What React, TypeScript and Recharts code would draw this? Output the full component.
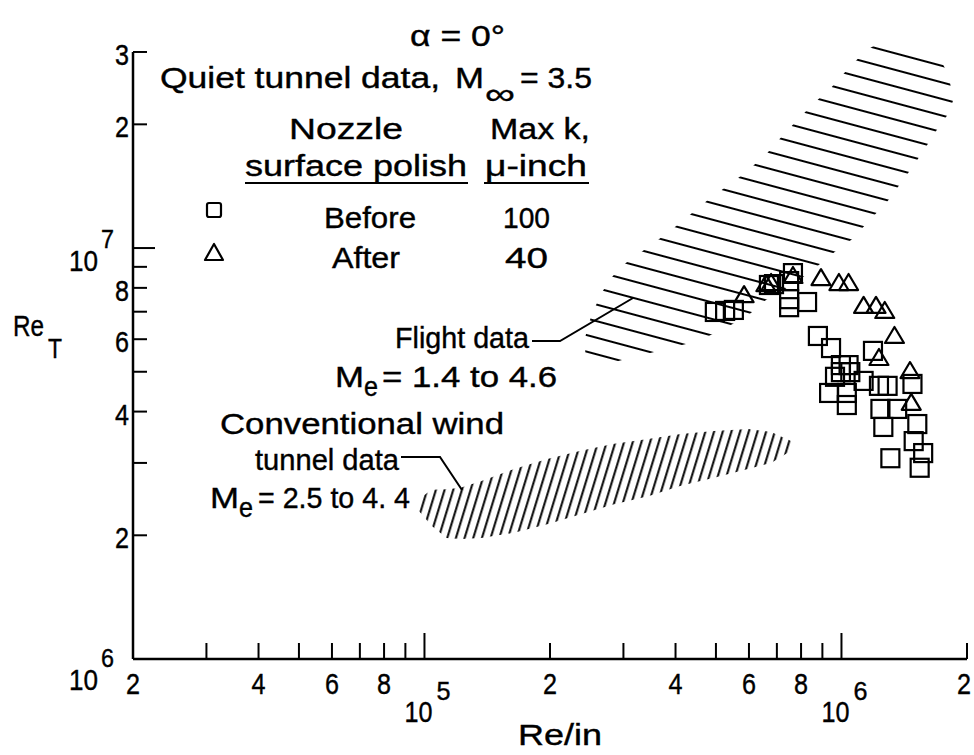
import React from 'react';
import { ComposedChart, Area, Scatter, XAxis, YAxis, ReferenceLine } from 'recharts';

const FONT = "'Liberation Sans', Arial, sans-serif";

// axis ticks
const xTicks = [2e4, 3e4, 4e4, 5e4, 6e4, 7e4, 8e4, 9e4, 1e5, 2e5, 3e5, 4e5, 5e5, 6e5, 7e5, 8e5, 9e5, 1e6, 2e6];
const xTickLabels = ['2', '', '4', '', '6', '', '8', '', '10^5', '2', '', '4', '', '6', '', '8', '', '10^6', '2'];
const yTicks = [1e6, 2e6, 3e6, 4e6, 5e6, 6e6, 7e6, 8e6, 9e6, 1e7, 2e7, 3e7];
const yTickLabels = ['10^6', '2', '', '4', '', '6', '', '8', '', '10^7', '2', '3'];

// quiet tunnel, before polish (squares)
const beforeRe = [
  4.97e5, 5.26e5, 5.52e5, 6.7e5, 6.89e5, 7.49e5, 7.65e5, 7.49e5, 7.49e5, 8.27e5,
  8.78e5, 9.44e5, 1.19e6, 9.97e5, 1.04e6, 9.97e5, 1.05e6, 9.65e5, 1.13e6, 1.23e6,
  1.29e6, 1.48e6, 9.34e5, 1.03e6, 1.03e6, 1.24e6, 1.36e6, 1.26e6, 1.52e6, 1.49e6,
  1.57e6, 1.31e6, 1.54e6,
];
const beforeReT = [
  6.99e6, 7.03e6, 7.07e6, 8.13e6, 8.17e6, 8.31e6, 8.69e6, 7.51e6, 7.18e6, 7.39e6,
  6.11e6, 5.71e6, 5.62e6, 5.19e6, 5.19e6, 4.99e6, 4.99e6, 4.86e6, 4.75e6, 4.62e6,
  4.62e6, 4.67e6, 4.44e6, 4.44e6, 4.15e6, 4.06e6, 4.06e6, 3.67e6, 3.73e6, 3.39e6,
  3.17e6, 3.08e6, 2.92e6,
];

// quiet tunnel, after polish (triangles)
const afterRe = [5.84e5, 6.59e5, 6.78e5, 7.65e5, 8.93e5, 9.86e5, 1.04e6, 1.13e6, 1.21e6, 1.27e6, 1.34e6, 1.23e6, 1.46e6, 1.47e6];
const afterReT = [7.68e6, 8.17e6, 8.22e6, 8.55e6, 8.45e6, 8.22e6, 8.22e6, 7.23e6, 7.23e6, 7.03e6, 6.11e6, 5.4e6, 5.02e6, 4.2e6];

// flight data band, Me = 1.4 to 4.6
const flightRe = [
  2.43e5, 2.51e5, 2.65e5, 2.8e5, 3.04e5, 3.46e5, 3.88e5, 4.31e5, 4.79e5, 5.14e5, 5.9e5, 6.59e5,
  7.2e5, 7.91e5, 8.59e5, 9.49e5, 1.06e6, 1.16e6, 1.29e6, 1.47e6, 1.57e6, 1.7e6, 1.81e6, 1.85e6,
];
const flightLow = [
  5.4e6, 5.34e6, 5.31e6, 5.25e6, 5.37e6, 5.55e6, 5.71e6, 5.87e6, 6.1e6, 6.32e6, 6.79e6, 7.47e6,
  7.86e6, 8.36e6, 8.89e6, 9.67e6, 1.05e7, 1.16e7, 1.3e7, 1.56e7, 1.72e7, 1.95e7, 2.13e7, 2.28e7,
];
const flightHigh = [
  6.08e6, 6.83e6, 7.73e6, 8.45e6, 9.19e6, 1.01e7, 1.1e7, 1.2e7, 1.31e7, 1.38e7, 1.53e7, 1.69e7,
  1.87e7, 2.07e7, 2.25e7, 2.47e7, 2.8e7, 3.05e7, 3.24e7, 3.12e7, 3.07e7, 2.98e7, 2.62e7, 2.3e7,
];

// conventional wind tunnel band, Me = 2.5 to 4.4
const convRe = [9.7e4, 1.04e5, 1.13e5, 1.22e5, 1.37e5, 1.64e5, 1.98e5, 2.37e5, 2.85e5, 3.44e5, 4.12e5, 4.95e5, 5.97e5, 6.78e5, 7.57e5];
const convLow = [2.29e6, 2.11e6, 1.97e6, 1.96e6, 1.97e6, 2.03e6, 2.13e6, 2.25e6, 2.38e6, 2.49e6, 2.64e6, 2.76e6, 2.9e6, 3.0e6, 3.21e6];
const convHigh = [2.45e6, 2.58e6, 2.59e6, 2.61e6, 2.71e6, 2.9e6, 3.07e6, 3.21e6, 3.34e6, 3.43e6, 3.53e6, 3.59e6, 3.63e6, 3.57e6, 3.39e6];

const beforeData = beforeRe.map((x, i) => ({ x, y: beforeReT[i] }));
const afterData = afterRe.map((x, i) => ({ x, y: afterReT[i] }));
const flightData = flightRe.map((x, i) => ({ x, range: [flightLow[i], flightHigh[i]] }));
const convData = convRe.map((x, i) => ({ x, range: [convLow[i], convHigh[i]] }));

const findLabel = (ticks: number[], labels: string[], v: number) => {
  const i = ticks.findIndex((t) => Math.abs(t - v) / t < 1e-6);
  return i >= 0 ? labels[i] : '';
};

// text squeezed/stretched to the width it has in the scan
function Txt({ x, y, w, size = 30, anchor = 'start', children }: any) {
  return (
    <text
      x={x}
      y={y}
      fontSize={size}
      fontFamily={FONT}
      fill="#000"
      stroke="#000"
      strokeWidth={0.4}
      textAnchor={anchor}
      textLength={w}
      lengthAdjust={w ? 'spacingAndGlyphs' : undefined}
    >
      {children}
    </text>
  );
}

function XTick(props: any) {
  const { x, y, payload } = props;
  const label = findLabel(xTicks, xTickLabels, payload.value);
  const decade = label.startsWith('10^');
  const last = payload.value >= 1.9e6;
  return (
    <g>
      <line x1={x} y1={y} x2={x} y2={y - (decade ? 26 : 16)} stroke="#000" strokeWidth={2} />
      {decade ? (
        <g>
          <Txt x={x + 8} y={y + 63} w={28} anchor="end">10</Txt>
          <Txt x={x + 12} y={y + 41} w={14} size={26}>{label.slice(3)}</Txt>
        </g>
      ) : label ? (
        <Txt x={last ? x - 3 : x} y={y + 35} w={14} anchor="middle">{label}</Txt>
      ) : null}
    </g>
  );
}

function YTick(props: any) {
  const { x, y, payload } = props;
  const label = findLabel(yTicks, yTickLabels, payload.value);
  const decade = label.startsWith('10^');
  const low = payload.value < 1.5e6;
  return (
    <g>
      <line x1={x} y1={y} x2={x + (decade ? 22 : 14)} y2={y} stroke="#000" strokeWidth={2} />
      {decade ? (
        <g>
          <Txt x={x - 35} y={y + (low ? 31 : 23)} w={29} anchor="end">10</Txt>
          <Txt x={x - 32} y={y + (low ? 8 : 0)} w={13} size={26}>{label.slice(3)}</Txt>
        </g>
      ) : label ? (
        <Txt x={x - 4} y={y + 13} w={14} anchor="end">{label}</Txt>
      ) : null}
    </g>
  );
}

const SquareMark = (p: any) => (
  <rect x={p.cx - 9} y={p.cy - 9} width={18} height={18} fill="none" stroke="#000" strokeWidth={2.2} />
);

const TriangleMark = (p: any) => (
  <polygon
    points={`${p.cx},${p.cy - 9} ${p.cx - 9.5},${p.cy + 7} ${p.cx + 9.5},${p.cy + 7}`}
    fill="none"
    stroke="#000"
    strokeWidth={2.2}
    strokeLinejoin="round"
  />
);

function Notes() {
  return (
    <svg width={974} height={755} style={{ position: 'absolute', left: 0, top: 0, pointerEvents: 'none' }}>
      <Txt x={410} y={46} w={95}>α = 0°</Txt>
      <Txt x={160} y={88} w={280}>Quiet tunnel data,</Txt>
      <Txt x={455} y={88} w={29}>M</Txt>
      <Txt x={485} y={104} w={30}>∞</Txt>
      <Txt x={520} y={88} w={72}>= 3.5</Txt>
      <Txt x={289} y={139} w={114}>Nozzle</Txt>
      <Txt x={490} y={139} w={100}>Max k,</Txt>
      <Txt x={245} y={176} w={222}>surface polish</Txt>
      <Txt x={485} y={176} w={102}>μ-inch</Txt>
      <line x1={245} y1={183} x2={468} y2={183} stroke="#000" strokeWidth={2.2} />
      <line x1={484} y1={183} x2={589} y2={183} stroke="#000" strokeWidth={2.2} />
      <rect x={207} y={203} width={14} height={14} rx={2} fill="none" stroke="#000" strokeWidth={2.2} />
      <Txt x={324} y={228} w={92}>Before</Txt>
      <Txt x={503} y={228} w={47}>100</Txt>
      <polygon points="214,244 205,260 223,260" fill="none" stroke="#000" strokeWidth={2.2} strokeLinejoin="round" />
      <Txt x={332} y={268} w={68}>After</Txt>
      <Txt x={505} y={268} w={43}>40</Txt>

      <Txt x={395} y={348} w={134}>Flight data</Txt>
      <polyline points="532,341 560,341 633,298" fill="none" stroke="#000" strokeWidth={2} />
      <Txt x={335} y={387} w={29}>M</Txt>
      <Txt x={364} y={396} w={14} size={27}>e</Txt>
      <Txt x={382} y={387} w={175}>= 1.4 to 4.6</Txt>

      <Txt x={220} y={434} w={284}>Conventional wind</Txt>
      <Txt x={255} y={470} w={144}>tunnel data</Txt>
      <polyline points="401,457 440,457 462,490" fill="none" stroke="#000" strokeWidth={2} />
      <Txt x={210} y={508} w={29}>M</Txt>
      <Txt x={239} y={517} w={14} size={27}>e</Txt>
      <Txt x={258} y={508} w={152}>= 2.5 to 4. 4</Txt>

      <Txt x={13} y={336} w={31}>Re</Txt>
      <Txt x={48} y={358} w={14} size={28}>T</Txt>
      <Txt x={518} y={745} w={84}>Re/in</Txt>
    </svg>
  );
}

export default function App() {
  return (
    <div style={{ position: 'absolute', left: 0, top: 0, width: 974, height: 755, background: '#fff' }}>
      <ComposedChart width={974} height={755} margin={{ top: 30, right: 7, bottom: 36, left: 73 }}>
        <defs>
          <pattern id="hatchFlight" patternUnits="userSpaceOnUse" width={40} height={16} y={3.8} patternTransform="rotate(15)">
            <line x1={0} y1={8} x2={40} y2={8} stroke="#000" strokeWidth={2.2} />
          </pattern>
          <pattern id="hatchConv" patternUnits="userSpaceOnUse" width={8.3} height={30} patternTransform="rotate(17)">
            <line x1={4} y1={0} x2={4} y2={30} stroke="#000" strokeWidth={2} />
          </pattern>
        </defs>
        <XAxis
          dataKey="x"
          type="number"
          scale="log"
          domain={[2e4, 2e6]}
          allowDataOverflow
          ticks={xTicks}
          interval={0}
          height={60}
          tickSize={0}
          tickMargin={0}
          tickLine={false}
          axisLine={{ stroke: '#000', strokeWidth: 2.5 }}
          tick={<XTick />}
        />
        <YAxis
          dataKey="y"
          type="number"
          scale="log"
          domain={[1e6, 3.393e7]}
          allowDataOverflow
          ticks={yTicks}
          interval={0}
          width={60}
          tickSize={0}
          tickMargin={0}
          tickLine={false}
          axisLine={false}
          tick={<YTick />}
        />
        <ReferenceLine
          segment={[{ x: 2e4, y: 1e6 }, { x: 2e4, y: 3e7 }]}
          stroke="#000"
          strokeWidth={2.5}
          ifOverflow="visible"
        />
        <Area
          data={flightData}
          dataKey="range"
          type="linear"
          stroke="none"
          fill="url(#hatchFlight)"
          fillOpacity={1}
          dot={false}
          activeDot={false}
          isAnimationActive={false}
        />
        <Area
          data={convData}
          dataKey="range"
          type="linear"
          stroke="none"
          fill="url(#hatchConv)"
          fillOpacity={1}
          dot={false}
          activeDot={false}
          isAnimationActive={false}
        />
        <Scatter data={beforeData} dataKey="y" shape={SquareMark} isAnimationActive={false} />
        <Scatter data={afterData} dataKey="y" shape={TriangleMark} isAnimationActive={false} />
      </ComposedChart>
      <Notes />
    </div>
  );
}
